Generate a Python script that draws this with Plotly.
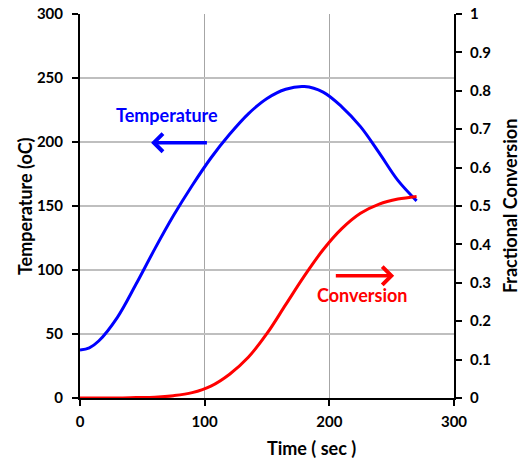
import plotly.graph_objects as go

# Data
time_s = [0, 7.5, 15, 30, 45, 60, 75, 90, 105, 120, 135, 150, 165, 180, 195, 210, 225, 240, 255, 270]
temperature_c = [37.5, 39.2, 44.5, 63, 89, 116.5, 142.5, 166, 187.5, 206, 222, 234, 241.2, 243.3, 239, 227.5, 212, 191.5, 170, 154]
conversion = [0, 0, 0, 0, 0.001, 0.002, 0.006, 0.014, 0.031, 0.062, 0.106, 0.168, 0.243, 0.318, 0.386, 0.441, 0.481, 0.505, 0.518, 0.525]

x_ticks = [0, 100, 200, 300]
y_ticks = [0, 50, 100, 150, 200, 250, 300]
y2_ticks = [0, 0.1, 0.2, 0.3, 0.4, 0.5, 0.6, 0.7, 0.8, 0.9, 1]

FONT = "Lato"

fig = go.Figure()
fig.add_trace(go.Scatter(x=time_s, y=temperature_c, mode="lines", name="Temperature",
                         line=dict(color="#0000FF", width=3, shape="spline", smoothing=1.0)))
fig.add_trace(go.Scatter(x=time_s, y=conversion, mode="lines", name="Conversion", yaxis="y2",
                         line=dict(color="#FF0000", width=3, shape="spline", smoothing=1.0)))

tickfont = dict(family=FONT, size=15, color="black", weight="bold")

fig.update_layout(
    width=527, height=461,
    margin=dict(l=80, r=73, t=14, b=63, autoexpand=False),
    paper_bgcolor="white", plot_bgcolor="white",
    showlegend=False,
    xaxis=dict(range=[0, 300], tickvals=x_ticks, showgrid=True, gridcolor="#a6a6a6", gridwidth=1,
               showline=True, linecolor="black", linewidth=2, ticks="outside", ticklen=6,
               tickwidth=2, tickcolor="black", zeroline=False, tickfont=tickfont, automargin=False,
               ticklabelstandoff=3),
    yaxis=dict(range=[0, 300], tickvals=y_ticks, showgrid=True, gridcolor="#bfbfbf", gridwidth=1.5,
               showline=True, linecolor="black", linewidth=2, ticks="outside", ticklen=6,
               tickwidth=2, tickcolor="black", zeroline=False, tickfont=tickfont, automargin=False,
               ticklabelstandoff=6),
    yaxis2=dict(range=[0, 1], tickvals=y2_ticks, overlaying="y", side="right", showgrid=False,
                showline=True, linecolor="black", linewidth=2, ticks="outside", ticklen=6,
                tickwidth=2, tickcolor="black", zeroline=False, tickfont=tickfont, automargin=False,
                ticklabelstandoff=5),
)

titlefont = dict(family=FONT, size=18, color="black", weight="bold")
fig.add_annotation(text="Time ( sec )", xref="paper", yref="paper", x=0.62, y=-0.13,
                   showarrow=False, font=titlefont, xanchor="center", yanchor="middle")
fig.add_annotation(text="Temperature (oC)", xref="paper", yref="paper", x=-0.147, y=0.5,
                   showarrow=False, font=titlefont, textangle=-90, xanchor="center", yanchor="middle")
fig.add_annotation(text="Fractional Conversion", xref="paper", yref="paper", x=1.15, y=0.5,
                   showarrow=False, font=titlefont, textangle=-90, xanchor="center", yanchor="middle")

# Labels and arrows
fig.add_annotation(text="Temperature", x=70, y=221, xref="x", yref="y", showarrow=False,
                   font=dict(family=FONT, size=18, color="#0000FF", weight="bold"))
fig.add_annotation(text="", x=57, y=199.5, ax=103, ay=199.5, xref="x", yref="y", axref="x", ayref="y",
                   showarrow=True, arrowhead=4, arrowsize=1, arrowwidth=3.5, arrowcolor="#0000FF",
                   standoff=0, startstandoff=0)
fig.add_annotation(text="Conversion", x=227, y=80.5, xref="x", yref="y", showarrow=False,
                   font=dict(family=FONT, size=18, color="#FF0000", weight="bold"))
fig.add_annotation(text="", x=252, y=95.5, ax=204, ay=95.5, xref="x", yref="y", axref="x", ayref="y",
                   showarrow=True, arrowhead=4, arrowsize=1, arrowwidth=3.5, arrowcolor="#FF0000",
                   standoff=0, startstandoff=0)

# Remove the default page margin so the figure fills the window exactly
fig.write_html("out.html", config={"displayModeBar": False},
               post_script="document.body.style.margin='0';")
